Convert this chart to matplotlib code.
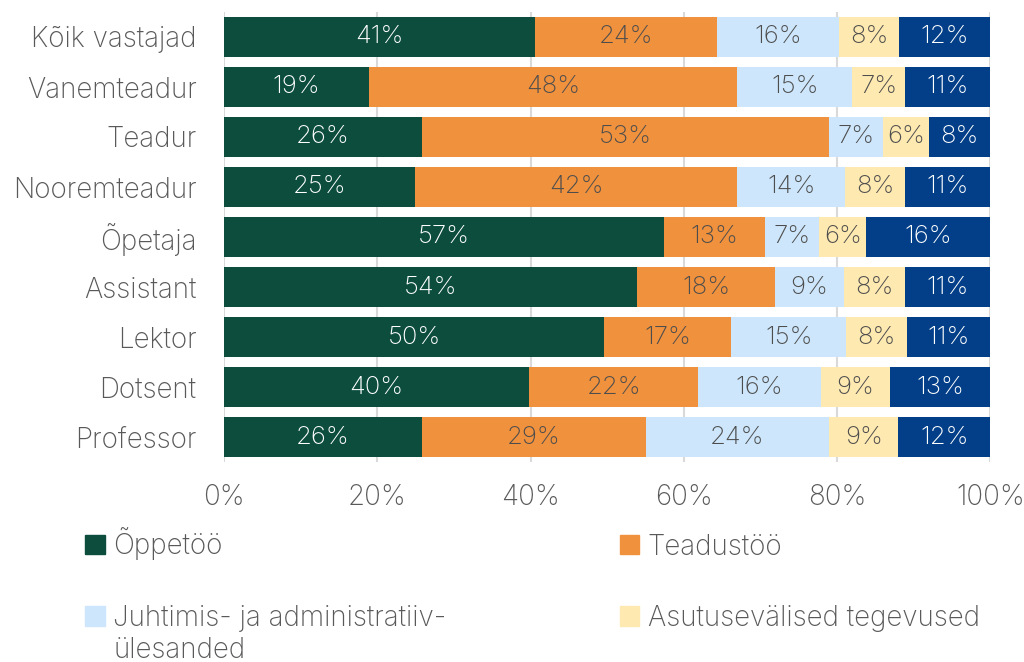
import numpy as np
import matplotlib.pyplot as plt
from matplotlib.patches import Patch

plt.rcParams['font.family'] = ['Inter', 'DejaVu Sans']

# Andmed (ülevalt alla)
kategooriad = ['Kõik vastajad', 'Vanemteadur', 'Teadur', 'Nooremteadur', 'Õpetaja',
               'Assistant', 'Lektor', 'Dotsent', 'Professor']
oppetoo = [40.6, 18.9, 25.8, 24.9, 57.4, 53.9, 49.6, 39.8, 25.8]
teadustoo = [23.7, 48.1, 53.2, 42.1, 13.2, 18.0, 16.6, 22.1, 29.2]
juhtimine = [16.0, 15.0, 7.0, 14.1, 7.1, 9.0, 15.0, 16.0, 24.0]
asutusevalised = [7.8, 6.9, 6.0, 7.8, 6.1, 8.0, 8.0, 9.0, 9.0]
muu = [11.9, 11.1, 8.0, 11.1, 16.2, 11.1, 10.8, 13.1, 12.0]

seeriad = ['Õppetöö', 'Teadustöö', 'Juhtimis- ja administratiiv-',
           'Asutusevälised tegevused', 'Muu']
varvid = ['#0c4d3e', '#f0913d', '#cde6fb', '#fee9b1', '#023f88']
tekstivarvid = ['white', '#4d4d4d', '#4d4d4d', '#4d4d4d', 'white']
andmed = [oppetoo, teadustoo, juhtimine, asutusevalised, muu]

fig = plt.figure(figsize=(10.24, 6.62), dpi=100)
ax = fig.add_axes([0.219, 0.302, 0.748, 0.68])

y = np.arange(len(kategooriad))
vasak = np.zeros(len(kategooriad))
for vaartused, varv, tv in zip(andmed, varvid, tekstivarvid):
    v = np.array(vaartused)
    b = ax.barh(y, v, left=vasak, height=0.8, color=varv, zorder=2)
    ax.bar_label(b, labels=[f'{x:.0f}%' for x in v], label_type='center',
                 color=tv, fontsize=18.5, fontweight='light')
    vasak += v

ax.set_ylim(len(kategooriad) - 0.5, -0.5)
ax.set_xlim(0, 100)
ax.set_yticks(y)
ax.set_yticklabels(kategooriad, fontsize=20, color='#595959', fontweight='light')
ax.set_xticks(np.arange(0, 101, 20))
ax.set_xticklabels([f'{t}%' for t in range(0, 101, 20)], fontsize=20,
                   color='#595959', fontweight='light')
ax.tick_params(length=0)
ax.tick_params(axis='y', pad=20)
ax.tick_params(axis='x', pad=16)
ax.grid(axis='x', color='#d9d9d9', linewidth=1.5, zorder=0)
for s in ax.spines.values():
    s.set_visible(False)

kasutajad = [Patch(color=varvid[i]) for i in [0, 2, 1, 3]]
sildid = [seeriad[i] for i in [0, 2, 1, 3]]
leg = fig.legend(kasutajad, sildid, ncol=2, loc='upper left', bbox_to_anchor=(0.059, 0.241),
                 frameon=False, handlelength=0.7, handleheight=0.7, handletextpad=0.3,
                 columnspacing=6.25, labelspacing=1.6, labelcolor='#595959',
                 prop={'size': 20, 'weight': 'light'})

# teine rida pikale sildile
fig.canvas.draw()
t = leg.get_texts()[1]
bb = t.get_window_extent().transformed(fig.transFigure.inverted())
fig.text(bb.x0, (bb.y0 + bb.y1) / 2 - 32 / 662, 'ülesanded', fontsize=20,
         fontweight='light', color='#595959', va='center', ha='left')

fig.savefig('out.png', dpi=100)
